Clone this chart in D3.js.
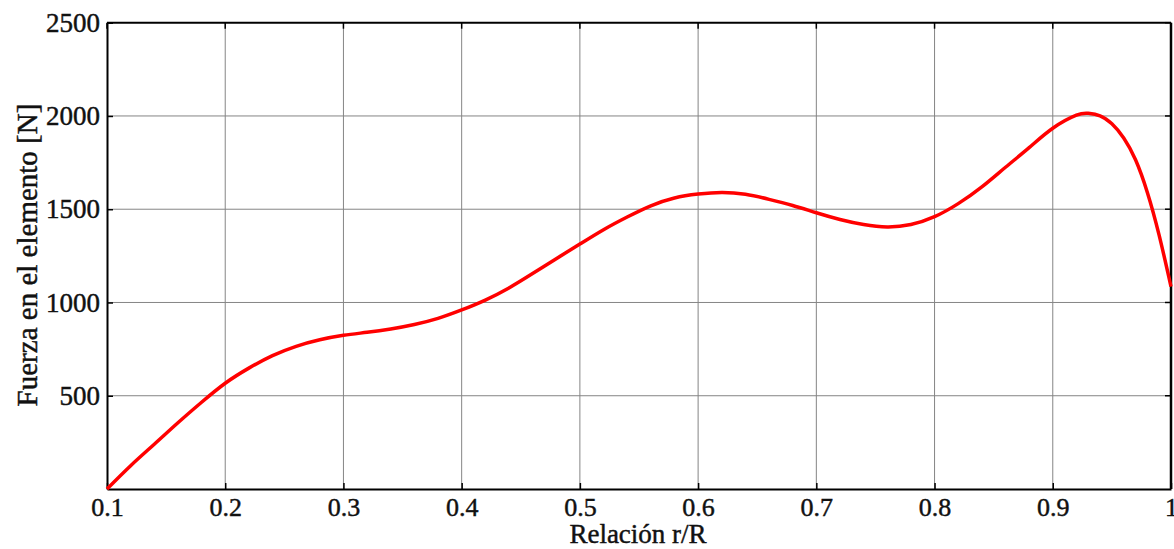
<!DOCTYPE html>
<html>
<head>
<meta charset="utf-8">
<script src="https://cdn.jsdelivr.net/npm/d3@7"></script>
<style>
  body { margin: 0; background: #fff; }
  svg text { font-family: "Liberation Serif", "Times New Roman", serif; fill: #111; stroke: #111; stroke-width: 0.45px; }
</style>
</head>
<body>
<svg></svg>
<script>
// relacion r/R and fuerza [N]
let ratio = [0.10, 0.12, 0.14, 0.16, 0.18, 0.20, 0.22, 0.24, 0.26, 0.28,
  0.30, 0.32, 0.34, 0.36, 0.38, 0.40, 0.42, 0.44, 0.46, 0.48,
  0.50, 0.52, 0.54, 0.56, 0.58, 0.60, 0.62, 0.64, 0.66, 0.68,
  0.70, 0.72, 0.74, 0.76, 0.78, 0.80, 0.82, 0.84, 0.86, 0.88,
  0.90, 0.92, 0.93, 0.94, 0.95, 0.96, 0.97, 0.98, 0.99, 1.00]
let force = [0, 125, 240, 355, 465, 567, 648, 715, 765, 800,
  824, 840, 858, 882, 915, 960, 1013, 1078, 1155, 1235,
  1313, 1390, 1458, 1518, 1560, 1581, 1590, 1580, 1553, 1520,
  1481, 1445, 1418, 1405, 1418, 1460, 1530, 1620, 1725, 1830,
  1934, 2004, 2014, 2001, 1958, 1882, 1765, 1590, 1360, 1085]

let xTicks = [0.1, 0.2, 0.3, 0.4, 0.5, 0.6, 0.7, 0.8, 0.9, 1]
let yTicks = [500, 1000, 1500, 2000, 2500]

let w = 1174
let h = 549
let plotLeft = 107
let plotRight = 1171
let plotTop = 22.7
let plotBottom = 489

let values = ratio.map((r, i) => ({ r: r, f: force[i] }))

let svg = d3.select('svg')
  .attr('width', w)
  .attr('height', h)

let xScale = d3.scaleLinear().domain([0.1, 1]).range([plotLeft, plotRight])
let yScale = d3.scaleLinear().domain([0, 2500]).range([plotBottom, plotTop])

// grid
svg.append('g')
  .selectAll('line')
  .data(xTicks.slice(1, -1))
  .enter()
  .append('line')
  .attr('x1', (d) => xScale(d))
  .attr('x2', (d) => xScale(d))
  .attr('y1', plotTop)
  .attr('y2', plotBottom)
  .attr('stroke', '#858585')
  .attr('stroke-width', 1)

svg.append('g')
  .selectAll('line')
  .data(yTicks.slice(0, -1))
  .enter()
  .append('line')
  .attr('x1', plotLeft)
  .attr('x2', plotRight)
  .attr('y1', (d) => yScale(d))
  .attr('y2', (d) => yScale(d))
  .attr('stroke', '#858585')
  .attr('stroke-width', 1)

// axes with inward ticks
let xAxis = d3.axisBottom(xScale)
  .tickValues(xTicks)
  .tickFormat((d) => d === 1 ? '1' : d3.format('.1f')(d))
  .tickSizeInner(-6)
  .tickSizeOuter(0)
  .tickPadding(9)

let yAxis = d3.axisLeft(yScale)
  .tickValues(yTicks)
  .tickFormat(d3.format('d'))
  .tickSizeInner(-6)
  .tickSizeOuter(0)
  .tickPadding(7)

let gx = svg.append('g')
  .attr('transform', 'translate(0, ' + plotBottom + ')')
  .call(xAxis)
gx.select('.domain').attr('stroke', '#000').attr('stroke-width', 2)
gx.selectAll('.tick line').attr('stroke', '#000').attr('stroke-width', 1.5)
gx.selectAll('.tick text')
  .attr('font-size', 26)
  .attr('font-family', '"Liberation Serif", serif')
  .attr('fill', '#111')

let gy = svg.append('g')
  .attr('transform', 'translate(' + plotLeft + ', 0)')
  .call(yAxis)
gy.select('.domain').attr('stroke', '#000').attr('stroke-width', 2)
gy.selectAll('.tick line').attr('stroke', '#000').attr('stroke-width', 1.5)
gy.selectAll('.tick text')
  .attr('font-size', 27)
  .attr('font-family', '"Liberation Serif", serif')
  .attr('fill', '#111')

// top and right frame
svg.append('line')
  .attr('x1', plotLeft).attr('x2', plotRight)
  .attr('y1', plotTop).attr('y2', plotTop)
  .attr('stroke', '#000').attr('stroke-width', 2)
svg.append('line')
  .attr('x1', plotRight).attr('x2', plotRight)
  .attr('y1', plotTop).attr('y2', plotBottom)
  .attr('stroke', '#000').attr('stroke-width', 2.5)

// ticks on top and right as well
svg.append('g')
  .selectAll('line')
  .data(xTicks)
  .enter()
  .append('line')
  .attr('x1', (d) => xScale(d))
  .attr('x2', (d) => xScale(d))
  .attr('y1', plotTop)
  .attr('y2', plotTop + 6)
  .attr('stroke', '#000')
  .attr('stroke-width', 1.5)

svg.append('g')
  .selectAll('line')
  .data(yTicks)
  .enter()
  .append('line')
  .attr('x1', plotRight - 6)
  .attr('x2', plotRight)
  .attr('y1', (d) => yScale(d))
  .attr('y2', (d) => yScale(d))
  .attr('stroke', '#000')
  .attr('stroke-width', 1.5)

// curve
let line = d3.line()
  .x((d) => xScale(d.r))
  .y((d) => yScale(d.f))
  .curve(d3.curveNatural)

svg.append('path')
  .datum(values)
  .attr('d', line)
  .attr('fill', 'none')
  .attr('stroke', '#ff0000')
  .attr('stroke-width', 3.5)
  .attr('stroke-linejoin', 'round')

// labels
svg.append('text')
  .attr('x', 638)
  .attr('y', 543)
  .attr('text-anchor', 'middle')
  .attr('font-size', 27)
  .text('Relación r/R')

svg.append('text')
  .attr('transform', 'translate(37, 255) rotate(-90)')
  .attr('text-anchor', 'middle')
  .attr('font-size', 29)
  .text('Fuerza en el elemento [N]')
</script>
</body>
</html>
